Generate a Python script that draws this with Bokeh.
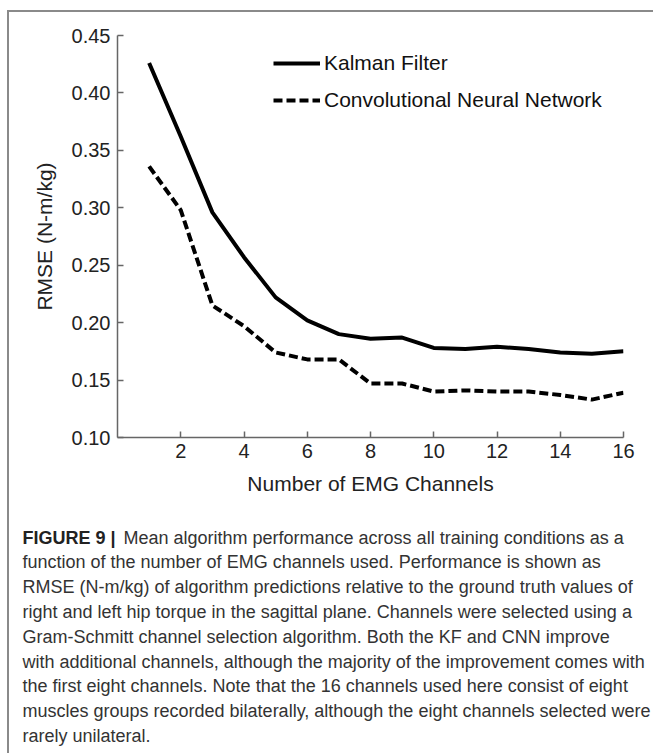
from bokeh.plotting import figure
from bokeh.models import Range1d, FixedTicker, NumeralTickFormatter, Legend, LegendItem, ColumnDataSource
from bokeh.embed import file_html
from bokeh.resources import INLINE
from bokeh.core.properties import value

# ---- data ----
channels = [1, 2, 3, 4, 5, 6, 7, 8, 9, 10, 11, 12, 13, 14, 15, 16]
kalman = [0.426, 0.362, 0.296, 0.257, 0.222, 0.202, 0.190, 0.186, 0.187, 0.178, 0.177, 0.179, 0.177, 0.174, 0.173, 0.175]
cnn = [0.336, 0.298, 0.215, 0.197, 0.174, 0.168, 0.168, 0.147, 0.147, 0.140, 0.141, 0.140, 0.140, 0.137, 0.133, 0.139]
x_ticks = [2, 4, 6, 8, 10, 12, 14, 16]
y_ticks = [0.10, 0.15, 0.20, 0.25, 0.30, 0.35, 0.40, 0.45]
series_names = ["Kalman Filter", "Convolutional Neural Network"]
x_title = "Number of EMG Channels"
y_title = "RMSE (N-m/kg)"
caption_bold = "FIGURE 9 |"
caption_lines = [
    "Mean algorithm performance across all training conditions as a",
    "function of the number of EMG channels used. Performance is shown as",
    "RMSE (N-m/kg) of algorithm predictions relative to the ground truth values of",
    "right and left hip torque in the sagittal plane. Channels were selected using a",
    "Gram-Schmitt channel selection algorithm. Both the KF and CNN improve",
    "with additional channels, although the majority of the improvement comes with",
    "the first eight channels. Note that the 16 channels used here consist of eight",
    "muscles groups recorded bilaterally, although the eight channels selected were",
    "rarely unilateral.",
]

FONT = "Liberation Sans"
OX, OY = 9, 12  # page offset of the content (after margin + border)
W = 655 - OX
TOP_H = 510 - OY
CAP_H = 755 - 510
FL, FR, FT, FB = 117, 623, 35, 437  # frame edges in page pixels
BORDER = "2px solid #8a8a8a"

p = figure(width=W, height=TOP_H, output_backend="svg", toolbar_location=None,
           x_range=Range1d(0, 16), y_range=Range1d(0.10, 0.45),
           min_border_left=FL - OX, min_border_right=W - (FR - OX),
           min_border_top=FT - OY, min_border_bottom=TOP_H - (FB - OY),
           styles={"margin-left": "7px", "margin-top": "10px",
                   "border-left": BORDER, "border-top": BORDER})
p.outline_line_color = None
p.xgrid.visible = False
p.ygrid.visible = False

src = ColumnDataSource(dict(x=channels, k=kalman, c=cnn))
r1 = p.line("x", "k", source=src, line_color="black", line_width=4)
r2 = p.line("x", "c", source=src, line_color="black", line_width=4, line_dash="9 4")

for ax in (p.xaxis[0], p.yaxis[0]):
    ax.axis_line_color = "#666666"
    ax.axis_line_width = 1.5
    ax.major_tick_line_color = "#666666"
    ax.major_tick_line_width = 1.5
    ax.major_tick_in = 6
    ax.major_tick_out = 0
    ax.minor_tick_line_color = None
    ax.major_label_text_font = FONT
    ax.major_label_text_font_size = "20px"
    ax.major_label_text_color = "#222222"
    ax.axis_label_text_font = FONT
    ax.axis_label_text_font_size = "21px"
    ax.axis_label_text_font_style = "normal"
    ax.axis_label_text_color = "#222222"

p.xaxis[0].ticker = FixedTicker(ticks=x_ticks)
p.yaxis[0].ticker = FixedTicker(ticks=y_ticks)
p.yaxis[0].formatter = NumeralTickFormatter(format="0.00")
p.xaxis[0].axis_label = x_title
p.yaxis[0].axis_label = y_title
p.xaxis[0].major_label_standoff = 6
p.yaxis[0].major_label_standoff = 7
p.xaxis[0].axis_label_standoff = 11
p.yaxis[0].axis_label_standoff = 13

legend = Legend(items=[LegendItem(label=series_names[0], renderers=[r1]),
                       LegendItem(label=series_names[1], renderers=[r2])],
                location=(156, 325), orientation="vertical")
legend.glyph_width = 47
legend.glyph_height = 20
legend.label_height = 20
legend.label_standoff = 4
legend.spacing = 13
legend.padding = 0
legend.margin = 0
legend.border_line_alpha = 0
legend.background_fill_alpha = 0
legend.label_text_font = FONT
legend.label_text_font_size = "21px"
legend.label_text_color = "#111111"
p.add_layout(legend)

# ---- caption: separate figure in page-pixel coordinates ----
c = figure(width=W, height=CAP_H, output_backend="svg", toolbar_location=None,
           x_range=Range1d(OX, 655), y_range=Range1d(755, 510),
           x_axis_location=None, y_axis_location=None, min_border=0,
           styles={"margin-left": "7px", "border-left": BORDER})
c.outline_line_color = None
c.grid.visible = False

LINE0, STEP = 539, 24.8
ys = [LINE0 + STEP * i for i in range(len(caption_lines))]
xs = [123] + [22] * (len(caption_lines) - 1)
c.text(x=[22], y=[LINE0], text=[caption_bold], text_font=value(FONT), text_font_size="18px",
       text_font_style="bold", text_color="#222222", text_baseline="middle", text_align="left")
c.text(x=xs, y=ys, text=caption_lines, text_font=value(FONT), text_font_size="18px",
       text_color="#333333", text_baseline="middle", text_align="left")

open("out.html", "w").write(file_html([p, c], INLINE))
